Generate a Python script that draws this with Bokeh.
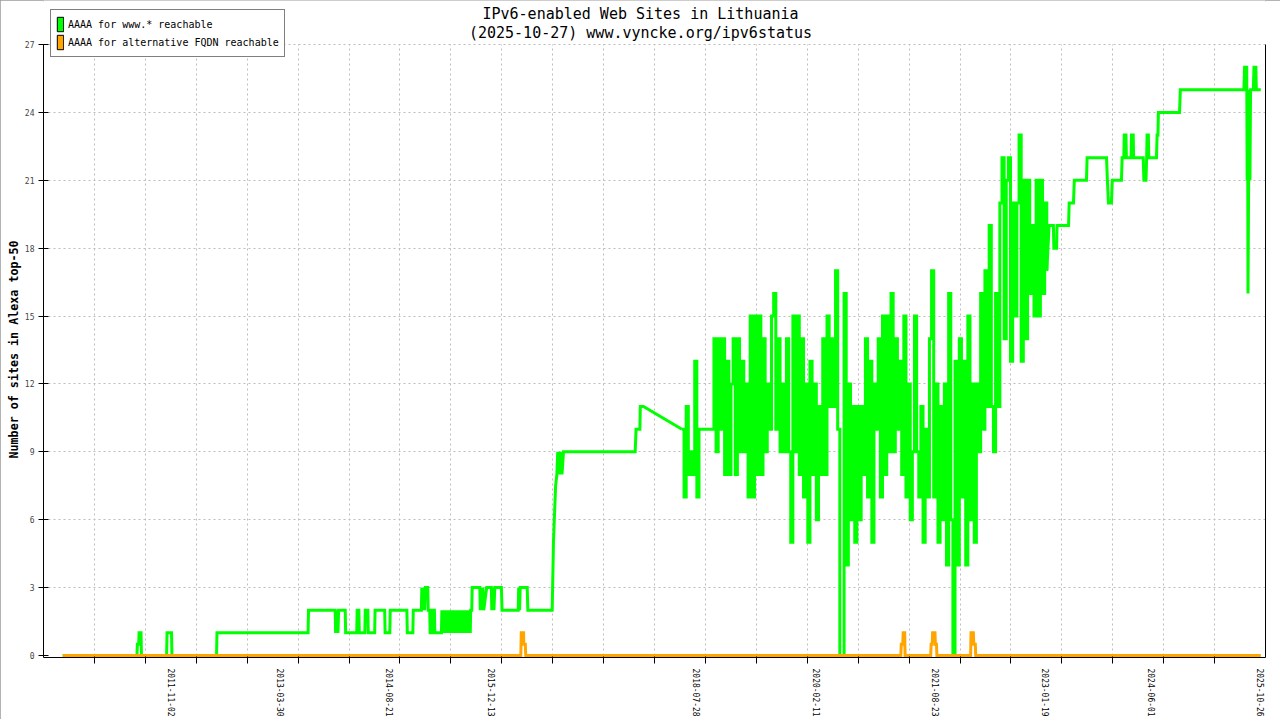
import numpy as np
from bokeh.plotting import figure
from bokeh.models import Range1d, FixedTicker, Legend, LegendItem, Label, LinearAxis, Title
from bokeh.embed import file_html
from bokeh.resources import INLINE

# ---------------- texts ----------------
title_line1 = "IPv6-enabled Web Sites in Lithuania"
title_line2 = "(2025-10-27) www.vyncke.org/ipv6status"
y_axis_title = "Number of sites in Alexa top-50"
legend_labels = ["AAAA for www.* reachable", "AAAA for alternative FQDN reachable"]

# ---------------- axes ----------------
x_tick_dates = ["2011-11-02", "2013-03-30", "2014-08-21", "2015-12-13", "2018-07-28",
                "2020-02-11", "2021-08-23", "2023-01-19", "2024-06-01", "2025-10-26"]
y_ticks = [0, 3, 6, 9, 12, 15, 18, 21, 24, 27]
y_max = 27
x_axis_start = "2010-03-14"
x_axis_end = "2025-11-17"
x_divisions = 24

# ---------------- series: AAAA for www.* reachable ----------------
www_dates_a = [
    "2010-06-12", "2011-05-26", "2011-05-28", "2011-06-03", "2011-06-05", "2011-06-14", "2011-06-16",
    "2011-10-12", "2011-10-14", "2011-11-04", "2011-11-06", "2012-06-02", "2012-06-04", "2013-08-05",
    "2013-08-07", "2013-12-10", "2013-12-12", "2013-12-15", "2013-12-17", "2013-12-20", "2013-12-23",
    "2013-12-26", "2014-01-26", "2014-01-28", "2014-03-21", "2014-03-23", "2014-03-31", "2014-04-02",
    "2014-04-28", "2014-04-30", "2014-05-12", "2014-05-14", "2014-06-13", "2014-06-15", "2014-07-30",
    "2014-08-01", "2014-08-23", "2014-08-25", "2014-11-11", "2014-11-13", "2014-12-09", "2014-12-11",
    "2015-01-18", "2015-01-20", "2015-01-25", "2015-01-28", "2015-02-02", "2015-02-06", "2015-02-17",
    "2015-02-19", "2015-02-26", "2015-02-28", "2015-03-10", "2015-03-12", "2015-03-20", "2015-03-22",
    "2015-04-22", "2015-04-24", "2015-05-01", "2015-05-08", "2015-05-15", "2015-05-22", "2015-05-29",
    "2015-06-05", "2015-06-12", "2015-06-19", "2015-06-26", "2015-07-03", "2015-07-10", "2015-07-17",
    "2015-07-24", "2015-07-31", "2015-08-07", "2015-08-14", "2015-08-21", "2015-08-28", "2015-09-04",
    "2015-09-06", "2015-09-11", "2015-09-13", "2015-10-19", "2015-10-21", "2015-10-25", "2015-10-29",
    "2015-11-02", "2015-11-06", "2015-11-20", "2015-12-12", "2015-12-14", "2015-12-20", "2015-12-24",
    "2015-12-28", "2016-01-28", "2016-01-31", "2016-04-16", "2016-04-18", "2016-04-22", "2016-04-25",
    "2016-05-28", "2016-05-31", "2016-09-22", "2016-09-25", "2016-09-28", "2016-10-02", "2016-10-08",
    "2016-10-14", "2016-10-18", "2016-10-22", "2016-10-26", "2016-10-30", "2016-11-03", "2016-11-07",
    "2016-11-14", "2017-10-16", "2017-10-20", "2017-11-07", "2017-11-09", "2017-11-24",
]
www_values_a = [
    0, 0, 0.5, 0.5, 1, 1, 0,
    0, 1, 1, 0, 0, 1, 1,
    2, 2, 1, 2, 1, 2, 1,
    2, 2, 1, 1, 2, 2, 1,
    1, 2, 2, 1, 1, 2, 2,
    1, 1, 2, 2, 1, 1, 2,
    2, 3, 2, 3, 2, 3, 3,
    2, 2, 1, 1, 2, 2, 1,
    1, 2, 1, 2, 1, 2, 1,
    2, 1, 2, 1, 2, 1, 2,
    1, 2, 1, 2, 1, 2, 1,
    2, 2, 3, 3, 2, 3, 2,
    3, 2, 3, 3, 2, 3, 2,
    3, 3, 2, 2, 3, 2, 3,
    3, 2, 2, 3.5, 5, 6, 7.5,
    8, 9, 8, 9, 8, 9, 8,
    9, 9, 10, 10, 11, 11,
]

# daily-sampled noisy period, read every 10 days
www_dense_start = "2018-05-23"
www_dense_step_days = 10
www_dense_values = [
    10, 7, 11, 8, 9, 8, 13, 7, 10, 10,
    10, 10, 10, 10, 10, 14, 9, 14, 10, 14,
    8, 13, 8, 12, 14, 8, 14, 9, 13, 9,
    12, 7, 15, 7, 15, 8, 15, 8, 14, 9,
    12, 10, 15, 16, 10, 14, 9, 12, 9, 14,
    9, 5, 15, 9, 15, 8, 14, 7, 12, 5,
    13, 8, 12, 6, 11, 8, 14, 8, 15, 11,
    14, 11, 17, 10, 0, 0, 16, 4, 12, 6,
    11, 5, 11, 6, 11, 8, 14, 7, 13, 5,
    12, 10, 14, 7, 15, 8, 15, 9, 16, 9,
    14, 10, 13, 8, 15, 7, 12, 6, 9, 15,
    9, 7, 11, 5, 10, 7, 14, 17, 7, 12,
    5, 11, 6, 12, 4, 16, 6, 0, 13, 4,
    14, 7, 13, 4, 15, 6, 12, 5, 12, 9,
    16, 10, 17, 11, 19, 11, 9, 16, 11, 20,
    22, 14, 21, 22, 13, 20, 15, 20, 23, 13,
    21, 14, 21, 16, 19, 15, 21, 15, 21, 16,
    20, 17,
]

www_dates_b = [
    "2023-02-07", "2023-02-27", "2023-03-01", "2023-03-14", "2023-03-16", "2023-05-09", "2023-05-12",
    "2023-06-01", "2023-06-05", "2023-08-01", "2023-08-04", "2023-11-03", "2023-11-07", "2023-11-12",
    "2023-11-26", "2023-11-30", "2024-01-12", "2024-01-15", "2024-01-23", "2024-01-25", "2024-02-02",
    "2024-02-04", "2024-02-26", "2024-02-28", "2024-03-07", "2024-03-09", "2024-04-23", "2024-04-26",
    "2024-05-06", "2024-05-09", "2024-05-11", "2024-05-17", "2024-05-19", "2024-06-24", "2024-06-27",
    "2024-07-01", "2024-07-03", "2024-10-10", "2024-10-14", "2025-08-08", "2025-08-11", "2025-08-21",
    "2025-08-23", "2025-08-25", "2025-08-27", "2025-08-30", "2025-09-02", "2025-09-05", "2025-09-08",
    "2025-09-21", "2025-09-24", "2025-10-03", "2025-10-05", "2025-10-26",
]
www_values_b = [
    19, 19, 18, 18, 19, 19, 20,
    20, 21, 21, 22, 22, 21, 20,
    20, 21, 21, 22, 22, 23, 23,
    22, 22, 23, 23, 22, 22, 21,
    21, 22, 23, 23, 22, 22, 23,
    23, 24, 24, 25, 25, 26, 26,
    21, 25, 16, 21, 25, 21, 25,
    25, 26, 26, 25, 25,
]

# ---------------- series: AAAA for alternative FQDN reachable ----------------
alt_dates = [
    "2010-06-12", "2016-04-28", "2016-04-30", "2016-05-11", "2016-05-12", "2016-05-19", "2016-05-21",
    "2021-03-14", "2021-03-16", "2021-03-23", "2021-03-25", "2021-04-01", "2021-04-03",
    "2021-08-01", "2021-08-03", "2021-08-08", "2021-08-10", "2021-08-21", "2021-08-23", "2021-08-28",
    "2021-08-30", "2022-02-04", "2022-02-06", "2022-02-17", "2022-02-19", "2022-02-26", "2022-02-28",
    "2025-10-26",
]
alt_values = [
    0, 0, 1, 1, 0.5, 0.5, 0,
    0, 0.5, 0.5, 1, 1, 0,
    0, 0.5, 0.5, 1, 1, 0.5, 0.5,
    0, 0, 1, 1, 0.5, 0.5, 0,
    0,
]

# ---------------- styling ----------------
GREEN = "#00ff00"
ORANGE = "#ffa500"
MONO = "DejaVu Sans Mono"
GRID = "#bdbdbd"
FRAME_LEFT = 43       # page x of the plot frame's left edge
FRAME_W = 1222
FRAME_H = 657
TOP_PAD = 44          # px between the top of the frame and the y=27 line
BOTTOM_PAD = 2        # px between the y=0 line and the bottom of the frame


def to_days(dates):
    return np.array(dates, dtype="datetime64[D]").astype(np.int64)


dense_x = to_days([www_dense_start])[0] + www_dense_step_days * np.arange(len(www_dense_values))
dense_y = np.array(www_dense_values, dtype=float)
line_a_x = np.concatenate([to_days(www_dates_a), dense_x[:1]])
line_a_y = np.concatenate([np.array(www_values_a, dtype=float), dense_y[:1]])
line_b_x = np.concatenate([dense_x[-1:], to_days(www_dates_b)])
line_b_y = np.concatenate([dense_y[-1:], np.array(www_values_b, dtype=float)])
alt_x = to_days(alt_dates)
alt_y = np.array(alt_values, dtype=float)

x0 = float(to_days([x_axis_start])[0])
x1 = float(to_days([x_axis_end])[0])
uniform_ticks = [x0 + k * (x1 - x0) / x_divisions for k in range(1, x_divisions)]
label_days = [int(d) for d in to_days(x_tick_dates)]
px_per_unit = (FRAME_H - TOP_PAD - BOTTOM_PAD) / y_max
y_bottom = -BOTTOM_PAD / px_per_unit
y_top = y_max + TOP_PAD / px_per_unit
y_label_bottom_page = 458   # where the rotated y title starts (bottom end)

p = figure(
    frame_width=FRAME_W, frame_height=FRAME_H,
    x_range=Range1d(x0, x1), y_range=Range1d(y_bottom, y_top),
    output_backend="svg", toolbar_location=None,
    min_border_left=FRAME_LEFT, min_border_right=15, min_border_top=0, min_border_bottom=0,
    background_fill_color="white", border_fill_color="white",
    styles={"outline": "2px solid #9a9a9a", "outline-offset": "-2px"},
)
p.outline_line_color = None

# x axis
xa = p.xaxis[0]
xa.ticker = FixedTicker(ticks=label_days, minor_ticks=uniform_ticks)
xa.major_label_overrides = {d: s for d, s in zip(label_days, x_tick_dates)}
xa.major_label_orientation = "vertical"
xa.major_label_text_font = MONO
xa.major_label_text_font_size = "8px"
xa.major_label_text_color = "black"
xa.major_label_standoff = 5
xa.major_tick_line_color = None
xa.major_tick_in = 0
xa.major_tick_out = 0
xa.minor_tick_line_color = "black"
xa.minor_tick_in = 1
xa.minor_tick_out = 6
xa.axis_line_color = "black"

# y axis
ya = p.yaxis[0]
ya.ticker = FixedTicker(ticks=y_ticks)
ya.bounds = (y_bottom, y_max)
ya.major_label_text_font = MONO
ya.major_label_text_font_size = "8px"
ya.major_label_standoff = 4
ya.major_tick_in = 5
ya.major_tick_out = 5
ya.minor_tick_line_color = None

# y title, centred on the 0..27 axis rather than on the whole frame
p.add_layout(Title(text=y_axis_title, align="left", offset=FRAME_H - y_label_bottom_page,
                   text_font=MONO, text_font_size="11.7px", text_font_style="bold",
                   text_color="black", standoff=2), "left")

# plain right-hand frame line
ra = LinearAxis(ticker=FixedTicker(ticks=[]), bounds=(y_bottom, y_max),
                major_tick_in=0, major_tick_out=0, minor_tick_in=0, minor_tick_out=0,
                major_label_text_font_size="0px", axis_line_color="black")
p.add_layout(ra, "right")

# grids
p.ygrid.ticker = FixedTicker(ticks=y_ticks[1:])
p.ygrid.grid_line_color = GRID
p.ygrid.grid_line_dash = "2 3"
xg = p.xgrid[0]
if hasattr(xg, "cross_bounds"):
    xg.ticker = FixedTicker(ticks=uniform_ticks)
    xg.cross_bounds = (0, y_max)
    xg.grid_line_color = GRID
    xg.grid_line_dash = "2 3"
else:
    xg.visible = False
    p.segment(x0=uniform_ticks, x1=uniform_ticks, y0=[0] * len(uniform_ticks),
              y1=[y_max] * len(uniform_ticks), line_color=GRID, line_dash="2 3", line_width=1)

# data
p.line(line_a_x, line_a_y, line_color=GREEN, line_width=3, line_join="miter")
p.step(dense_x, dense_y, mode="after", line_color=GREEN, line_width=3, line_join="miter")
p.line(line_b_x, line_b_y, line_color=GREEN, line_width=3, line_join="miter")
p.line(alt_x, alt_y, line_color=ORANGE, line_width=3, line_join="miter")

# titles (inside the top band of the frame; screen units are frame-relative)
p.add_layout(Label(x=640 - FRAME_LEFT, y=FRAME_H - 13, x_units="screen", y_units="screen",
                   text=title_line1, text_align="center", text_baseline="middle",
                   text_font=MONO, text_font_size="15px", text_color="black"))
p.add_layout(Label(x=640 - FRAME_LEFT, y=FRAME_H - 32, x_units="screen", y_units="screen",
                   text=title_line2, text_align="center", text_baseline="middle",
                   text_font=MONO, text_font_size="15px", text_color="black"))

# legend swatches (no data, only used for the legend boxes)
sw_g = p.quad(left=[np.nan], right=[np.nan], top=[np.nan], bottom=[np.nan],
              fill_color=GREEN, line_color="black")
sw_o = p.quad(left=[np.nan], right=[np.nan], top=[np.nan], bottom=[np.nan],
              fill_color=ORANGE, line_color="black")
legend = Legend(
    items=[LegendItem(label=legend_labels[0], renderers=[sw_g]),
           LegendItem(label=legend_labels[1], renderers=[sw_o])],
    location=(50 - FRAME_LEFT, FRAME_H - 57),
    glyph_width=8, glyph_height=18, label_height=18, label_width=20,
    spacing=0, padding=5, margin=0, label_standoff=4,
    label_text_font=MONO, label_text_font_size="10px", label_text_color="black",
    border_line_color="black", border_line_width=1,
    background_fill_color="white", background_fill_alpha=1.0,
)
p.add_layout(legend)

open("out.html", "w").write(file_html(p, INLINE))
